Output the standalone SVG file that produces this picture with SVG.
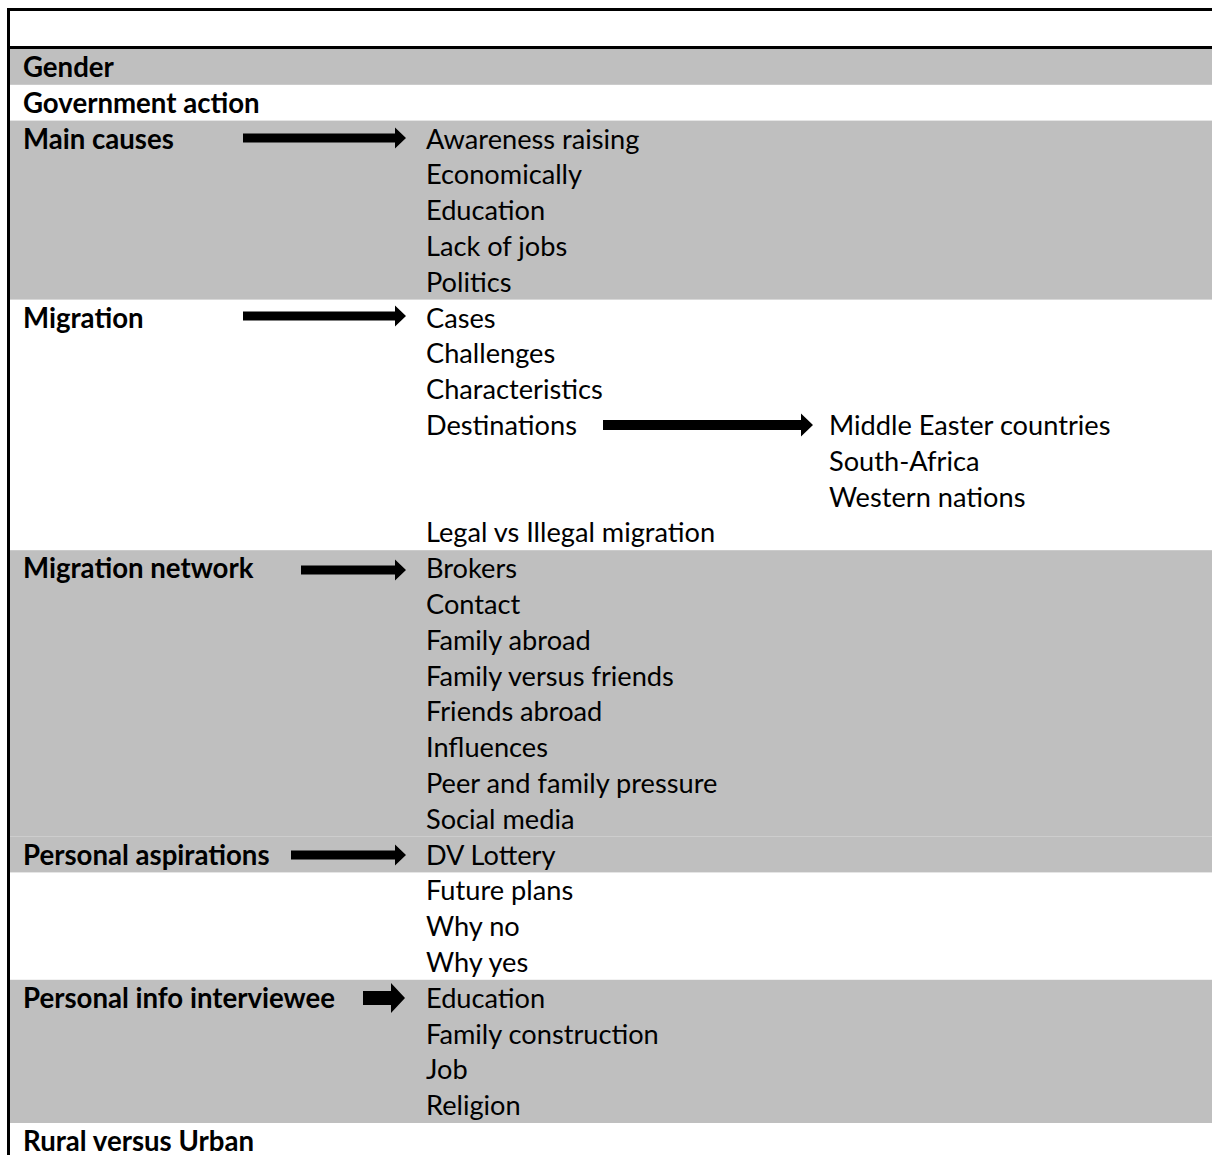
<svg xmlns="http://www.w3.org/2000/svg" width="1212" height="1155" viewBox="0 0 1212 1155">
<style>
.band{fill:#bfbfbf}
.rule{fill:#000}
text{font-family:Lato,"Open Sans",sans-serif;font-size:27.2px;fill:#000}
.h{font-weight:bold;font-size:27.6px}
.arrow{fill:#000}
</style>
<rect width="1212" height="1155" fill="#fff"/>
<g id="bands">
<rect class="band" x="10" y="49" width="1202" height="35.8"/>
<rect class="band" x="10" y="120.6" width="1202" height="179"/>
<rect class="band" x="10" y="550.2" width="1202" height="286.4"/>
<rect class="band" x="10" y="836.6" width="1202" height="35.8"/>
<rect class="band" x="10" y="979.8" width="1202" height="143.2"/>
</g>
<g id="frame">
<rect class="rule" x="7" y="8" width="1205" height="3"/>
<rect class="rule" x="7" y="46" width="1205" height="3"/>
<rect class="rule" x="7" y="8" width="3" height="1147"/>
</g>
<g id="gender"><text class="h" x="23" y="77">Gender</text></g>
<g id="government-action"><text class="h" x="23" y="112.8">Government action</text></g>
<g id="main-causes"><text class="h" x="23" y="148.6">Main causes</text></g>
<g id="main-causes-items">
<text x="426" y="148.6">Awareness raising</text>
<text x="426" y="184.4">Economically</text>
<text x="426" y="220.2">Education</text>
<text x="426" y="256">Lack of jobs</text>
<text x="426" y="291.8">Politics</text>
</g>
<g id="migration"><text class="h" x="23" y="327.6">Migration</text></g>
<g id="migration-items">
<text x="426" y="327.6">Cases</text>
<text x="426" y="363.4">Challenges</text>
<text x="426" y="399.2">Characteristics</text>
<text x="426" y="435">Destinations</text>
<text x="426" y="542.4">Legal vs Illegal migration</text>
</g>
<g id="destinations-items">
<text x="829" y="435">Middle Easter countries</text>
<text x="829" y="470.8">South-Africa</text>
<text x="829" y="506.6">Western nations</text>
</g>
<g id="migration-network"><text class="h" x="23" y="578.2">Migration network</text></g>
<g id="migration-network-items">
<text x="426" y="578.2">Brokers</text>
<text x="426" y="614">Contact</text>
<text x="426" y="649.8">Family abroad</text>
<text x="426" y="685.6">Family versus friends</text>
<text x="426" y="721.4">Friends abroad</text>
<text x="426" y="757.2">Influences</text>
<text x="426" y="793">Peer and family pressure</text>
<text x="426" y="828.8">Social media</text>
</g>
<g id="personal-aspirations"><text class="h" x="23" y="864.6">Personal aspirations</text></g>
<g id="personal-aspirations-items">
<text x="426" y="864.6">DV Lottery</text>
<text x="426" y="900.4">Future plans</text>
<text x="426" y="936.2">Why no</text>
<text x="426" y="972">Why yes</text>
</g>
<g id="personal-info"><text class="h" x="23" y="1007.8">Personal info interviewee</text></g>
<g id="personal-info-items">
<text x="426" y="1007.8">Education</text>
<text x="426" y="1043.6">Family construction</text>
<text x="426" y="1079.4">Job</text>
<text x="426" y="1115.2">Religion</text>
</g>
<g id="rural-urban"><text class="h" x="23" y="1151">Rural versus Urban</text></g>
<g id="connectors">
<path class="arrow" d="M243 133.5H395V127.5L406 138L395 148.5V142.5H243Z"/>
<path class="arrow" d="M243 311.5H395V305.5L406 316L395 326.5V320.5H243Z"/>
<path class="arrow" d="M603 420H801V413.5L813 425L801 436.5V430H603Z"/>
<path class="arrow" d="M301 565.5H395V559.5L406 570L395 580.5V574.5H301Z"/>
<path class="arrow" d="M291 850.5H395V844.5L406 855L395 865.5V859.5H291Z"/>
<path class="arrow" d="M363 991H391V983L405 998L391 1013V1005H363Z"/>
</g>
</svg>
